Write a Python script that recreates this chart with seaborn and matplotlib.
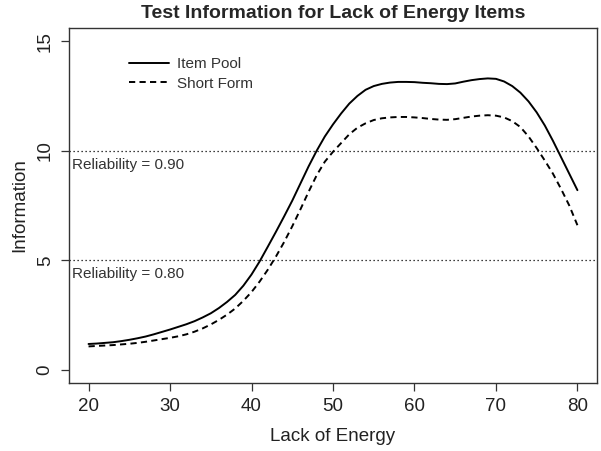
import numpy as np
import pandas as pd
import matplotlib
matplotlib.use("Agg")
import matplotlib.pyplot as plt
import seaborn as sns

# DATA (at every unit of Lack of Energy)

lack_of_energy = list(range(20, 81))
item_pool = [1.18, 1.20, 1.23, 1.26, 1.31, 1.37, 1.44, 1.52, 1.62, 1.73,
             1.84, 1.96, 2.08, 2.22, 2.39, 2.58, 2.82, 3.10, 3.42, 3.84,
             4.35, 4.95, 5.62, 6.30, 7.00, 7.72, 8.50, 9.28, 10.00, 10.65,
             11.20, 11.70, 12.15, 12.50, 12.78, 12.95, 13.05, 13.11, 13.14, 13.14,
             13.13, 13.10, 13.08, 13.05, 13.04, 13.07, 13.15, 13.22, 13.27, 13.30,
             13.28, 13.16, 12.95, 12.65, 12.25, 11.75, 11.15, 10.45, 9.70, 8.95,
             8.20]
short_form = [1.07, 1.09, 1.11, 1.13, 1.16, 1.19, 1.23, 1.28, 1.34, 1.40,
              1.46, 1.53, 1.62, 1.74, 1.89, 2.07, 2.28, 2.52, 2.80, 3.15,
              3.55, 4.03, 4.57, 5.17, 5.83, 6.55, 7.32, 8.12, 8.88, 9.50,
              9.95, 10.35, 10.75, 11.05, 11.25, 11.40, 11.48, 11.52, 11.54, 11.54,
              11.52, 11.49, 11.45, 11.42, 11.41, 11.44, 11.50, 11.56, 11.60, 11.62,
              11.60, 11.52, 11.35, 11.08, 10.65, 10.12, 9.55, 8.95, 8.25, 7.50,
              6.60]
series_names = ["Item Pool", "Short Form"]
reliability_levels = [10, 5]
reliability_labels = ["Reliability = 0.90", "Reliability = 0.80"]
x_ticks = [20, 30, 40, 50, 60, 70, 80]
y_ticks = [0, 5, 10, 15]

abc = pd.DataFrame({
    "Lack of Energy": lack_of_energy * 2,
    "Information": item_pool + short_form,
    "Series": [series_names[0]] * len(lack_of_energy) + [series_names[1]] * len(lack_of_energy),
})

# STYLE

sns.set_theme(style="ticks")
plt.rcParams["font.family"] = ["Liberation Sans", "DejaVu Sans"]

fig = plt.figure(figsize=(6.01, 4.51), dpi=100)
ax = fig.add_axes([0.1148, 0.1508, 0.9933 - 0.1148, 0.9379 - 0.1508])

# LINES

sns.lineplot(
    data=abc,
    x="Lack of Energy",
    y="Information",
    hue="Series",
    style="Series",
    palette=["black", "black"],
    dashes={series_names[0]: "", series_names[1]: (3.2, 2.2)},
    linewidth=1.4,
    ax=ax,
)

# RELIABILITY LINES

for level, label in zip(reliability_levels, reliability_labels):
    ax.axhline(level, color="black", linewidth=0.9, linestyle=(0, (1, 2.2)))
    ax.text(18.0, level - 0.64, label, fontsize=11, color="#333333", ha="left", va="center")

# AXES

ax.set_xlim(17.6, 82.4)
ax.set_ylim(-0.6, 15.6)
ax.set_xticks(x_ticks)
ax.set_yticks(y_ticks)
ax.set_yticklabels([str(t) for t in y_ticks], rotation=90, va="center")
ax.tick_params(axis="both", labelsize=13.5, length=6, width=0.9, color="#333333", labelcolor="#222222", pad=5)
for s in ax.spines.values():
    s.set_visible(True)
    s.set_linewidth(1.0)
    s.set_color("#333333")

ax.set_xlabel("Lack of Energy", fontsize=13.5, color="#222222", labelpad=9)
ax.set_ylabel("Information", fontsize=13.5, color="#222222", labelpad=6)
ax.set_title("Test Information for Lack of Energy Items", fontsize=14, fontweight="bold", pad=7)

# LEGEND

handles, labels = ax.get_legend_handles_labels()
ax.legend(
    handles, labels,
    loc="upper left",
    bbox_to_anchor=(0.103, 0.935),
    frameon=False,
    fontsize=11,
    handlelength=2.6,
    handletextpad=0.5,
    labelspacing=0.35,
    borderaxespad=0,
)
for t in ax.get_legend().get_texts():
    t.set_color("#333333")

fig.savefig("out.png", dpi=100)
